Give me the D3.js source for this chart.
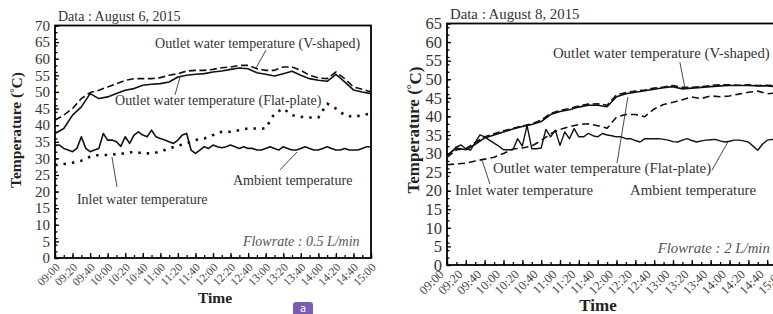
<!DOCTYPE html>
<html>
<head>
<meta charset="utf-8">
<script src="https://cdn.jsdelivr.net/npm/d3@7"></script>
<style>
body { margin: 0; background: #fff; }
svg { display: block; }
svg text { font-family: "Liberation Serif", "DejaVu Serif", "Times New Roman", serif; }
</style>
</head>
<body>
<script>
// x values are minutes after 09:00
var t10 = d3.range(0, 361, 10);
var t5 = d3.range(0, 361, 5);

var timeLabels = ["09:00","09:20","09:40","10:00","10:20","10:40","11:00","11:20","11:40","12:00",
                  "12:20","12:40","13:00","13:20","13:40","14:00","14:20","14:40","15:00"];

// ---- August 6, 2015 (0.5 L/min) ----
var flatA = [37.5,39,43,45.5,49.5,48,48.5,49.5,50.5,51,52,52.3,52.5,53,54.5,55,55.3,55.5,56,
             56.3,56.8,57.2,57,55.8,55.3,54.8,55.5,56.2,55,54,53.5,53.2,55.3,53,50.6,50,49.5];
var vA = [41.5,43,45,48,49.8,50.5,51.5,52.5,53.5,54,54,54,54.3,55,55.5,56.3,56.5,56.5,56.8,
          57.3,57.5,58,58,57,56.5,56.5,57.5,57.5,56.5,55,54.2,54,56,54,51.5,50.8,50];
var inletA = [28,28.3,28.7,29.3,30.5,31,31,31.3,31.5,32,31.5,31.5,32,33,33.8,34.5,35.5,36,37,
              38,38,38.5,39,39,39,43.5,45,43,42.5,42.3,42.3,46.5,45,43,42.5,43,43.5];
// ambient read every 5 minutes
var ambA = [34,34,33,32.5,32,33,36.5,33,32,32.5,33,37.5,35.5,35.5,35,33.6,36.5,34.5,37,38,
            37,36.5,38.5,36.5,36,35.5,35,34.5,35.5,37,37.5,32.5,31.5,32.5,33.5,33,34,33.5,
            33.2,33.5,34,33.5,33,33.5,33,33,32.5,32.5,33,33.5,33,32.5,33.5,33,32.5,32.5,33,
            33.5,33,32.5,32.5,33,33.5,33,32.5,32.5,33,32.5,32.5,32.5,33,33.5,33.5];

// ---- August 8, 2015 (2 L/min) ----
var flatB = [29.5,31.5,31,32.5,34.2,35,35.8,36.6,37.3,37.8,38.6,40.5,41.3,41.8,42.5,43,43,42.6,
             45.3,46.1,46.5,46.9,47.3,47.7,48,47.4,47.6,47.8,48,48.2,48.3,48.3,48.3,48.2,48.2,48,48];
var vB = [29,31,31.3,33,34.5,35.3,36.1,36.8,37.4,38,39,40.8,41.6,42.1,42.8,43.3,43.4,43,45.8,
          46.4,46.8,47.1,47.6,47.9,48.3,47.8,47.8,48,48.3,48.5,48.5,48.4,48.5,48.3,48.4,48.2,48.1];
var inletB = [27,27.2,27.4,28,28.5,29,30,31.2,31.5,32,33.5,35.3,36.5,37.2,37.8,38,37.5,36.8,
              39.8,40.5,40.5,39.9,42,43.2,43.8,44.5,45.2,44.8,45.5,45.3,45.5,46,46.5,46.8,46.1,46.3,46.5];
var ambB = [29.5,30.5,31.8,32.3,31.3,30.9,33,35,34.5,33.6,32.8,32,31,31,
            31,34,32,37.6,31.3,31.3,31.5,36.5,34.5,36.3,32.2,35.8,34,36.7,34.5,34.5,35.4,34.8,
            34.5,35.4,35,34.8,34.5,34.5,34,34,33.5,33.1,34,34,34,34,33.8,33.6,33.2,33.1,33.6,
            34,33.5,33.1,33.4,33.6,33.7,33.8,33.4,33.1,33.3,33.6,33.6,33.4,33.1,32,30.9,32.5,
            33.6,33.8,33.6,33.5,33.4];

// annotations in data units: [minute, value]
var notesA = [
  {text: "Outlet water temperature (V-shaped)", at: [114, 63.2], from: [240.4, 62.6], to: [229, 57.2]},
  {text: "Outlet water temperature (Flat-plate)", at: [68.4, 46.1], from: [136.7, 49.1], to: [142.4, 54.5]},
  {text: "Inlet water temperature", at: [25, 16.3], from: [70.6, 21.4], to: [64.9, 30.4]},
  {text: "Ambient temperature", at: [202.8, 22], from: [256.3, 26.5], to: [275.7, 31.9]}
];
var notesB = [
  {text: "Outlet water temperature (V-shaped)", at: [112.5, 55.7], from: [247.3, 54.6], to: [252.7, 47.6]},
  {text: "Outlet water temperature (Flat-plate)", at: [48.8, 24.8], from: [180.5, 27.4], to: [192.1, 45.2]},
  {text: "Inlet water temperature", at: [8.5, 18.8], from: [45.6, 21.8], to: [37.2, 28.2]},
  {text: "Ambient temperature", at: [194.3, 18.8], from: [281.3, 25.5], to: [298.3, 33.1]}
];

var svg = d3.select("body").append("svg")
    .attr("width", 773)
    .attr("height", 314);

function drawPanel(p) {
  var x = d3.scaleLinear().domain([0, 360]).range([p.left, p.right]);
  var y = d3.scaleLinear().domain([0, p.yMax]).range([p.bottom, p.top]);
  var g = svg.append("g");

  // minor ticks every 10 min, pointing inward
  g.append("g")
    .attr("transform", "translate(0," + p.bottom + ")")
    .call(d3.axisBottom(x).tickValues(t10).tickSize(-3).tickFormat(""))
    .call(function(a){ a.select(".domain").remove(); });

  var xAx = g.append("g")
    .attr("transform", "translate(0," + p.bottom + ")")
    .call(d3.axisBottom(x).tickValues(d3.range(0, 361, 20)).tickSize(-5)
          .tickFormat(function(d, i){ return timeLabels[i]; }));
  xAx.select(".domain").remove();
  xAx.selectAll("text")
    .attr("y", 0).attr("dy", 0)
    .attr("text-anchor", "end")
    .attr("transform", "translate(" + p.lblDx + "," + p.lblDy + ") rotate(-45)")
    .style("font-size", p.xFont + "px")
    .attr("fill", "#444");

  g.append("g")
    .attr("transform", "translate(" + p.left + ",0)")
    .call(d3.axisLeft(y).ticks(p.yMax / 2.5).tickSize(-2.5).tickFormat(""))
    .call(function(a){ a.select(".domain").remove(); });

  var yAx = g.append("g")
    .attr("transform", "translate(" + p.left + ",0)")
    .call(d3.axisLeft(y).tickValues(d3.range(0, p.yMax + 1, 5)).tickSize(-4).tickPadding(5));
  yAx.select(".domain").remove();
  yAx.selectAll("text")
    .style("font-size", p.yFont + "px")
    .attr("fill", "#333");
  g.selectAll(".tick line").attr("stroke", "#000").attr("stroke-width", 1.3);
  g.selectAll("g").attr("font-family", null);

  // frame
  g.append("rect")
    .attr("x", p.left).attr("y", p.top)
    .attr("width", p.right - p.left).attr("height", p.bottom - p.top)
    .attr("fill", "none").attr("stroke", "#000").attr("stroke-width", 1.8);

  var line = d3.line().x(function(d){ return x(d[0]); }).y(function(d){ return y(d[1]); });

  p.series.forEach(function(s) {
    g.append("path")
      .datum(d3.zip(s.t, s.v))
      .attr("d", line)
      .attr("fill", "none")
      .attr("stroke", "#111")
      .attr("stroke-width", s.w)
      .attr("stroke-dasharray", s.dash)
      .attr("stroke-linejoin", "round");
  });

  p.notes.forEach(function(n) {
    g.append("line")
      .attr("x1", x(n.from[0])).attr("y1", y(n.from[1]))
      .attr("x2", x(n.to[0])).attr("y2", y(n.to[1]))
      .attr("stroke", "#333").attr("stroke-width", 0.9);
    g.append("text")
      .attr("x", x(n.at[0])).attr("y", y(n.at[1]))
      .text(n.text)
      .style("font-size", p.noteFont + "px")
      .attr("fill", "#333");
  });

  g.append("text")
    .attr("x", x(p.flowAt[0])).attr("y", y(p.flowAt[1]))
    .attr("text-anchor", "end")
    .text(p.flow)
    .style("font-style", "italic")
    .style("font-size", p.flowFont + "px")
    .attr("fill", "#555");

  g.append("text")
    .attr("x", p.left + 3).attr("y", p.dateY)
    .text(p.date)
    .style("font-size", p.dateFont + "px")
    .attr("fill", "#333");

  g.append("text")
    .attr("x", p.timeX).attr("y", p.timeY)
    .attr("text-anchor", "middle")
    .text("Time")
    .style("font-weight", "bold")
    .style("font-size", p.titleFont + "px")
    .attr("fill", "#222");

  var yt = g.append("text")
    .attr("transform", "translate(" + p.yTitleX + "," + p.yTitleY + ") rotate(-90)")
    .attr("text-anchor", "middle")
    .style("font-weight", "bold")
    .style("font-size", p.titleFont + "px")
    .attr("fill", "#222");
  yt.append("tspan").text("Temperature (");
  yt.append("tspan").text("°").attr("dy", "-0.3em").style("font-size", (p.titleFont * 0.7) + "px");
  yt.append("tspan").text("C)").attr("dy", "0.3em");
}

drawPanel({
  left: 55, right: 371, top: 25.5, bottom: 258, yMax: 70,
  xFont: 11.5, yFont: 15, noteFont: 14, flowFont: 14, dateFont: 14, titleFont: 15.5,
  lblDx: 5, lblDy: 10,
  date: "Data : August 6, 2015", dateY: 21,
  flow: "Flowrate : 0.5 L/min", flowAt: [347, 3.6],
  timeX: 215, timeY: 303, yTitleX: 21, yTitleY: 130,
  series: [
    {t: t10, v: flatA, w: 1.6, dash: null},
    {t: t10, v: vA, w: 1.6, dash: "7,3.5"},
    {t: t10, v: inletA, w: 2.6, dash: "2.5,6"},
    {t: t5, v: ambA, w: 1.6, dash: null}
  ],
  notes: notesA
});

drawPanel({
  left: 447, right: 786, top: 23.5, bottom: 265, yMax: 65,
  xFont: 12.5, yFont: 16.5, noteFont: 14.8, flowFont: 14.8, dateFont: 14.8, titleFont: 17,
  lblDx: -3, lblDy: 10,
  date: "Data : August 8, 2015", dateY: 19,
  flow: "Flowrate : 2 L/min", flowAt: [342.9, 3.2],
  timeX: 598, timeY: 311, yTitleX: 419, yTitleY: 130,
  series: [
    {t: t10, v: flatB, w: 1.6, dash: null},
    {t: t10, v: vB, w: 1.6, dash: "7,3.5"},
    {t: t10, v: inletB, w: 1.6, dash: "7,4"},
    {t: t5, v: ambB, w: 1.4, dash: null}
  ],
  notes: notesB
});

// purple tab at the bottom of the figure
svg.append("rect")
  .attr("x", 293).attr("y", 302).attr("width", 20).attr("height", 18).attr("rx", 3)
  .attr("fill", "#7a5cb5");
svg.append("text")
  .attr("x", 303).attr("y", 312).attr("text-anchor", "middle")
  .text("a")
  .style("font-family", "DejaVu Sans")
  .style("font-size", "10px")
  .attr("fill", "#fff");
</script>
</body>
</html>
